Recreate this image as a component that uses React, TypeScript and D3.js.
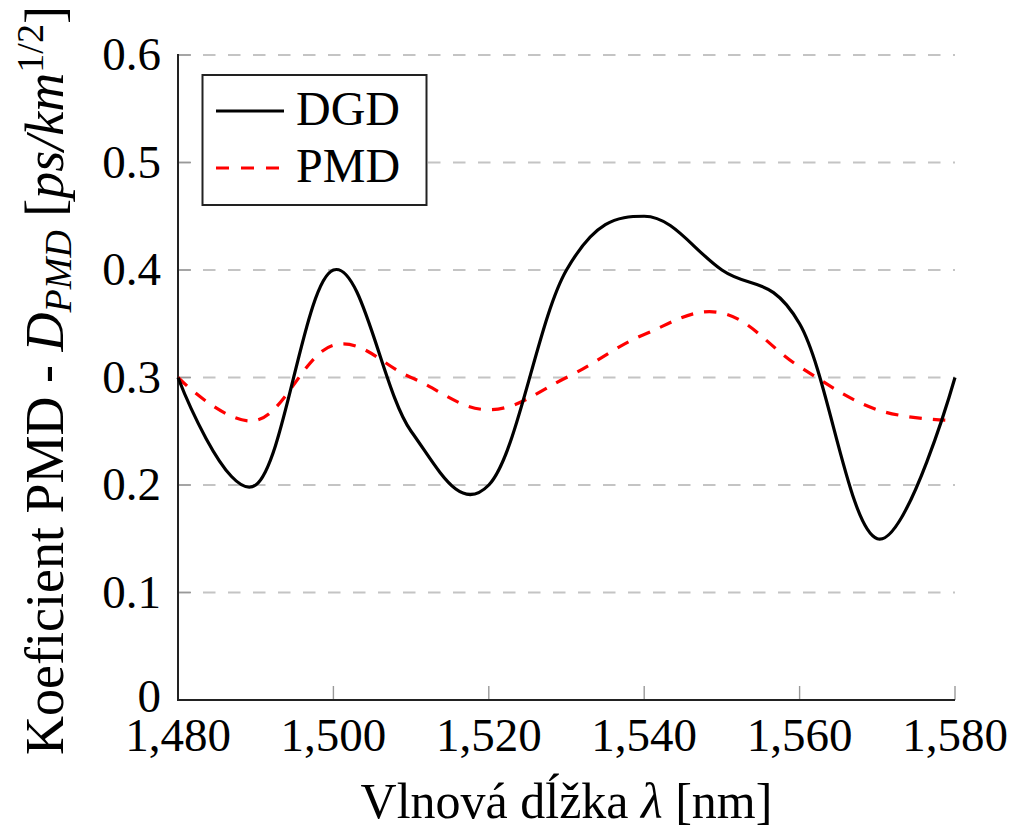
import React from "react";
import * as d3 from "d3";

const wavelengths = [1480, 1490, 1500, 1510, 1520, 1530, 1540, 1550, 1560, 1570, 1580];
const dgdValues = [0.3, 0.2, 0.4, 0.25, 0.2, 0.4, 0.45, 0.4, 0.35, 0.15, 0.3];
const pmdValues = [0.3, 0.26, 0.33, 0.3, 0.27, 0.3, 0.34, 0.36, 0.31, 0.27, 0.26];
const xTicks = [1480, 1500, 1520, 1540, 1560, 1580];
const yTicks = [0, 0.1, 0.2, 0.3, 0.4, 0.5, 0.6];
const seriesNames = ["DGD", "PMD"];

const W = 1011;
const H = 834;
const M = { left: 178, right: 955, top: 55, bottom: 700 };
const FONT = "Liberation Serif, DejaVu Serif, serif";

export default function App() {
  const x = d3.scaleLinear().domain([1480, 1580]).range([M.left, M.right]);
  const y = d3.scaleLinear().domain([0, 0.6]).range([M.bottom, M.top]);
  const line = d3
    .line<number>()
    .x((_, i) => x(wavelengths[i]))
    .y((d) => y(d))
    .curve(d3.curveCardinal.tension(-0.1));
  const fmtX = (v: number) => d3.format(",")(v);

  return (
    <svg
      width={W}
      height={H}
      style={{ position: "absolute", left: 0, top: 0, background: "#fff", fontFamily: FONT }}
    >
      {/* grid */}
      {yTicks
        .filter((t) => t > 0)
        .map((t) => (
          <line
            key={"g" + t}
            x1={M.left}
            x2={M.right}
            y1={y(t)}
            y2={y(t)}
            stroke="#c4c4c4"
            strokeWidth={1.8}
            strokeDasharray="12.5 12.5"
          />
        ))}
      {/* y tick marks */}
      {yTicks.map((t) => (
        <line key={"yt" + t} x1={M.left} x2={M.left + 13} y1={y(t)} y2={y(t)} stroke="#999" strokeWidth={1.4} />
      ))}
      {/* x tick marks */}
      {xTicks.map((t) => (
        <line key={"xt" + t} x1={x(t)} x2={x(t)} y1={M.bottom} y2={M.bottom - 14} stroke="#999" strokeWidth={1.4} />
      ))}
      {/* axes */}
      <line x1={M.left} x2={M.left} y1={M.top - 1} y2={M.bottom + 1} stroke="#222" strokeWidth={2} />
      <line x1={M.left - 1} x2={M.right} y1={M.bottom} y2={M.bottom} stroke="#222" strokeWidth={2} />

      {/* series */}
      <path d={line(pmdValues) || ""} fill="none" stroke="#ff0000" strokeWidth={3.2} strokeDasharray="12.5 11" />
      <path d={line(dgdValues) || ""} fill="none" stroke="#000" strokeWidth={3.2} strokeLinejoin="round" />

      {/* y tick labels */}
      {yTicks.map((t) => (
        <text key={"yl" + t} x={M.left - 17} y={y(t) + (t === 0 ? 12 : 15)} textAnchor="end" fontSize={47}>
          {t === 0 ? "0" : d3.format(".1f")(t)}
        </text>
      ))}
      {/* x tick labels */}
      {xTicks.map((t) => (
        <text key={"xl" + t} x={x(t)} y={751} textAnchor="middle" fontSize={47}>
          {fmtX(t)}
        </text>
      ))}

      {/* x axis title */}
      <text x={(M.left + M.right) / 2} y={818} textAnchor="middle" fontSize={50}>
        Vlnová dĺžka <tspan fontStyle="italic">λ</tspan> [nm]
      </text>

      {/* y axis title */}
      <text
        transform={`translate(63, ${(M.top + M.bottom) / 2 + 3}) rotate(-90)`}
        textAnchor="middle"
        fontSize={54}
      >
        Koeficient PMD - <tspan fontStyle="italic">D</tspan>
        <tspan fontStyle="italic" fontSize={38} dy={8}>PMD</tspan>
        <tspan dy={-8}> [</tspan>
        <tspan fontStyle="italic">ps/km</tspan>
        <tspan fontSize={38} dy={-20}>1/2</tspan>
        <tspan dy={20}>]</tspan>
      </text>

      {/* legend */}
      <rect x={202.5} y={75} width={224} height={130} fill="#fff" stroke="#222" strokeWidth={2} />
      <line x1={216} x2={284} y1={111} y2={111} stroke="#000" strokeWidth={3.2} />
      <text x={296} y={125} fontSize={48}>{seriesNames[0]}</text>
      <line x1={216} x2={284} y1={168} y2={168} stroke="#ff0000" strokeWidth={3.2} strokeDasharray="13 12" />
      <text x={296} y={182} fontSize={48}>{seriesNames[1]}</text>
    </svg>
  );
}
